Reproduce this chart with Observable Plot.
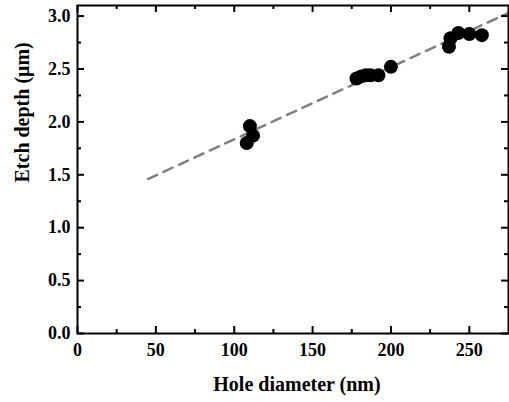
<!DOCTYPE html>
<html>
<head>
<meta charset="utf-8">
<script src="https://cdn.jsdelivr.net/npm/d3@7"></script>
<script src="https://cdn.jsdelivr.net/npm/@observablehq/plot@0.6"></script>
<style>
  html, body { margin: 0; padding: 0; background: #fff; }
  svg { font-family: "Liberation Serif", "Times New Roman", serif; }
</style>
</head>
<body>
<div id="chart"></div>
<script>
// Data
const holeDiameter = [108, 110, 112, 178, 181, 184, 187, 192, 200, 237, 238, 243, 250, 258];
const etchDepth    = [1.80, 1.96, 1.87, 2.41, 2.43, 2.44, 2.44, 2.44, 2.52, 2.71, 2.79, 2.84, 2.83, 2.82];
const fitX = [45, 275];
const fitY = [1.46, 3.03];
const xMajor = [0, 50, 100, 150, 200, 250];
const xMinor = [25, 75, 125, 175, 225];
const yMajor = [0, 0.5, 1.0, 1.5, 2.0, 2.5, 3.0];
const yMinor = [0.25, 0.75, 1.25, 1.75, 2.25, 2.75];
const xLabel = "Hole diameter (nm)";
const yLabel = "Etch depth (\u03bcm)";

const points = holeDiameter.map((d, i) => ({x: d, y: etchDepth[i]}));
const fit = fitX.map((d, i) => ({x: d, y: fitY[i]}));

const W = 509, H = 402, mL = 77, mR = 1, mT = 5, mB = 69;
const plotW = W - mL - mR, plotH = H - mT - mB;
const majorLen = 7, minorLen = 4;
const tickStyle = {stroke: "#000", strokeWidth: 2};

const plot = Plot.plot({
  width: W,
  height: H,
  marginLeft: mL,
  marginRight: mR,
  marginTop: mT,
  marginBottom: mB,
  style: {fontFamily: "Liberation Serif, Times New Roman, serif", color: "#000", background: "#fff"},
  x: {domain: [0, 275]},
  y: {domain: [0, 3.1]},
  marks: [
    // dashed fit line
    Plot.line(fit, {x: "x", y: "y", stroke: "#808080", strokeWidth: 2.5, strokeDasharray: "10,7"}),
    // data points
    Plot.dot(points, {x: "x", y: "y", r: 7, fill: "#000", stroke: "none"}),
    // tick labels
    Plot.axisX(xMajor, {anchor: "bottom", tickSize: 0, tickPadding: 10, fontSize: 18, fontWeight: "bold", label: null}),
    Plot.axisY(yMajor, {anchor: "left", tickSize: 0, tickPadding: 7, tickFormat: d3.format(".1f"), fontSize: 18, fontWeight: "bold", label: null}),
    // inward ticks: bottom
    Plot.ruleX(xMajor, {x: d => d, insetTop: plotH - majorLen, ...tickStyle}),
    Plot.ruleX(xMinor, {x: d => d, insetTop: plotH - minorLen, ...tickStyle}),
    // top
    Plot.ruleX(xMajor, {x: d => d, insetBottom: plotH - majorLen, ...tickStyle}),
    Plot.ruleX(xMinor, {x: d => d, insetBottom: plotH - minorLen, ...tickStyle}),
    // left
    Plot.ruleY(yMajor, {y: d => d, insetRight: plotW - majorLen, ...tickStyle}),
    Plot.ruleY(yMinor, {y: d => d, insetRight: plotW - minorLen, ...tickStyle}),
    // right
    Plot.ruleY(yMajor, {y: d => d, insetLeft: plotW - majorLen, ...tickStyle}),
    Plot.ruleY(yMinor, {y: d => d, insetLeft: plotW - minorLen, ...tickStyle}),
    // frame
    Plot.frame({stroke: "#000", strokeWidth: 2}),
    // axis titles
    Plot.text([xLabel], {frameAnchor: "bottom", dy: 57, dx: 4, text: d => d, fontSize: 20, fontWeight: "bold", fill: "#000"}),
    Plot.text([yLabel], {frameAnchor: "left", dx: -55, dy: 13, rotate: -90, text: d => d, fontSize: 20, fontWeight: "bold", fill: "#000"})
  ]
});
document.getElementById("chart").appendChild(plot);
</script>
</body>
</html>
